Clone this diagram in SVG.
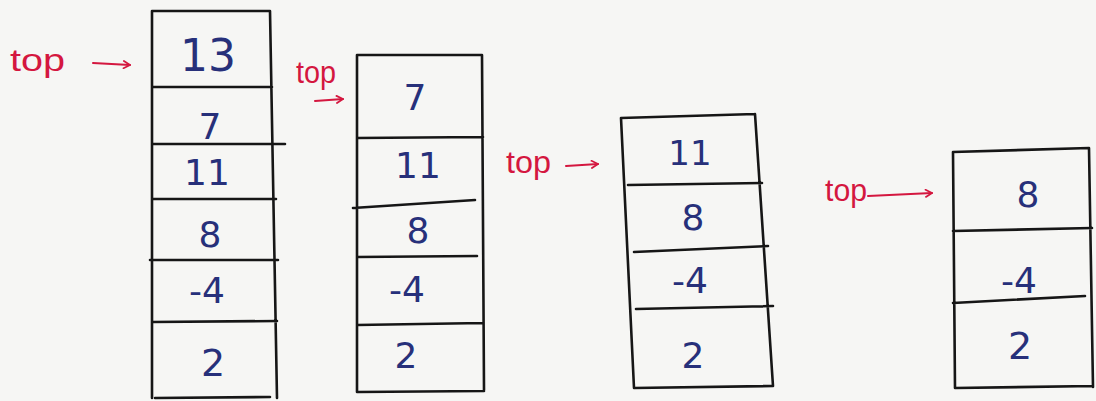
<svg xmlns="http://www.w3.org/2000/svg" width="1096" height="401" viewBox="0 0 1096 401">
<style>
.ln{stroke:#161616;stroke-width:2.6;fill:none;stroke-linecap:round}
.num{font-family:"DejaVu Sans",sans-serif;fill:#27307a;text-anchor:middle;dominant-baseline:central}
.top{font-family:"Liberation Sans",sans-serif;fill:#d4173f;font-size:32px;dominant-baseline:central}
.arr{stroke:#d4173f;stroke-width:2;fill:none;stroke-linecap:round;stroke-linejoin:round}
</style>
<defs>
<marker id="ah" viewBox="0 0 10 10" refX="9" refY="5" markerWidth="9" markerHeight="9" orient="auto" markerUnits="userSpaceOnUse">
<path d="M2 1 L9 5 L2 9" class="arr" stroke-width="1.6"/>
</marker>
</defs>
<rect width="1096" height="401" fill="#f6f6f4"/>

<g id="stack1">
<path class="ln" d="M152 11 L152 398 M270 11 L277 398 M152 11 L270 11 M155 398 L270 397 M152 87 L272 87 M152 144 L285 144 M152 199 L276 199 M150 260 L278 260 M152 322 L277 321"/>
<text class="num" x="208" y="55" font-size="44">13</text>
<text class="num" x="210" y="126" font-size="36">7</text>
<text class="num" x="207" y="172" font-size="36">11</text>
<text class="num" x="210" y="234" font-size="36">8</text>
<text class="num" x="207" y="290" font-size="36">-4</text>
<text class="num" x="213" y="363" font-size="38">2</text>
</g>

<g id="stack2">
<path class="ln" d="M357 55 L357 392 M482 55 L484 390 M357 55 L482 55 M358 392 L484 391 M357 138 L483 137 M353 208 L475 200 M357 257 L477 256 M357 325 L483 323"/>
<text class="num" x="415" y="97" font-size="36">7</text>
<text class="num" x="418" y="165" font-size="36">11</text>
<text class="num" x="418" y="230" font-size="36">8</text>
<text class="num" x="407" y="289" font-size="36">-4</text>
<text class="num" x="406" y="355" font-size="36">2</text>
</g>

<g id="stack3">
<path class="ln" d="M621 118 L634 388 M755 114 L773 386 M621 118 L755 114 M634 388 L773 386 M628 185 L762 183 M634 252 L768 246 M636 309 L773 306"/>
<text class="num" x="690" y="153" font-size="34">11</text>
<text class="num" x="693" y="217" font-size="36">8</text>
<text class="num" x="690" y="280" font-size="36">-4</text>
<text class="num" x="693" y="355" font-size="36">2</text>
</g>

<g id="stack4">
<path class="ln" d="M953 152 L955 388 M1089 148 L1093 387 M953 152 L1089 148 M955 388 L1093 386 M953 231 L1092 228 M953 303 L1085 296"/>
<text class="num" x="1028" y="194" font-size="36">8</text>
<text class="num" x="1019" y="280" font-size="36">-4</text>
<text class="num" x="1020" y="346" font-size="38">2</text>
</g>

<g id="labels">
<text class="top" x="10" y="60" textLength="55" lengthAdjust="spacingAndGlyphs">top</text>
<text class="top" x="296" y="72" font-size="28" textLength="40" lengthAdjust="spacingAndGlyphs">top</text>
<text class="top" x="506" y="162" textLength="45" lengthAdjust="spacingAndGlyphs">top</text>
<text class="top" x="825" y="190" textLength="42" lengthAdjust="spacingAndGlyphs">top</text>
</g>

<g id="connectors">
<path class="arr" d="M93 63 L130 65" marker-end="url(#ah)"/>
<path class="arr" d="M315 101 L343 99" marker-end="url(#ah)"/>
<path class="arr" d="M566 166 L598 164" marker-end="url(#ah)"/>
<path class="arr" d="M868 196 L932 193" marker-end="url(#ah)"/>
</g>
</svg>
